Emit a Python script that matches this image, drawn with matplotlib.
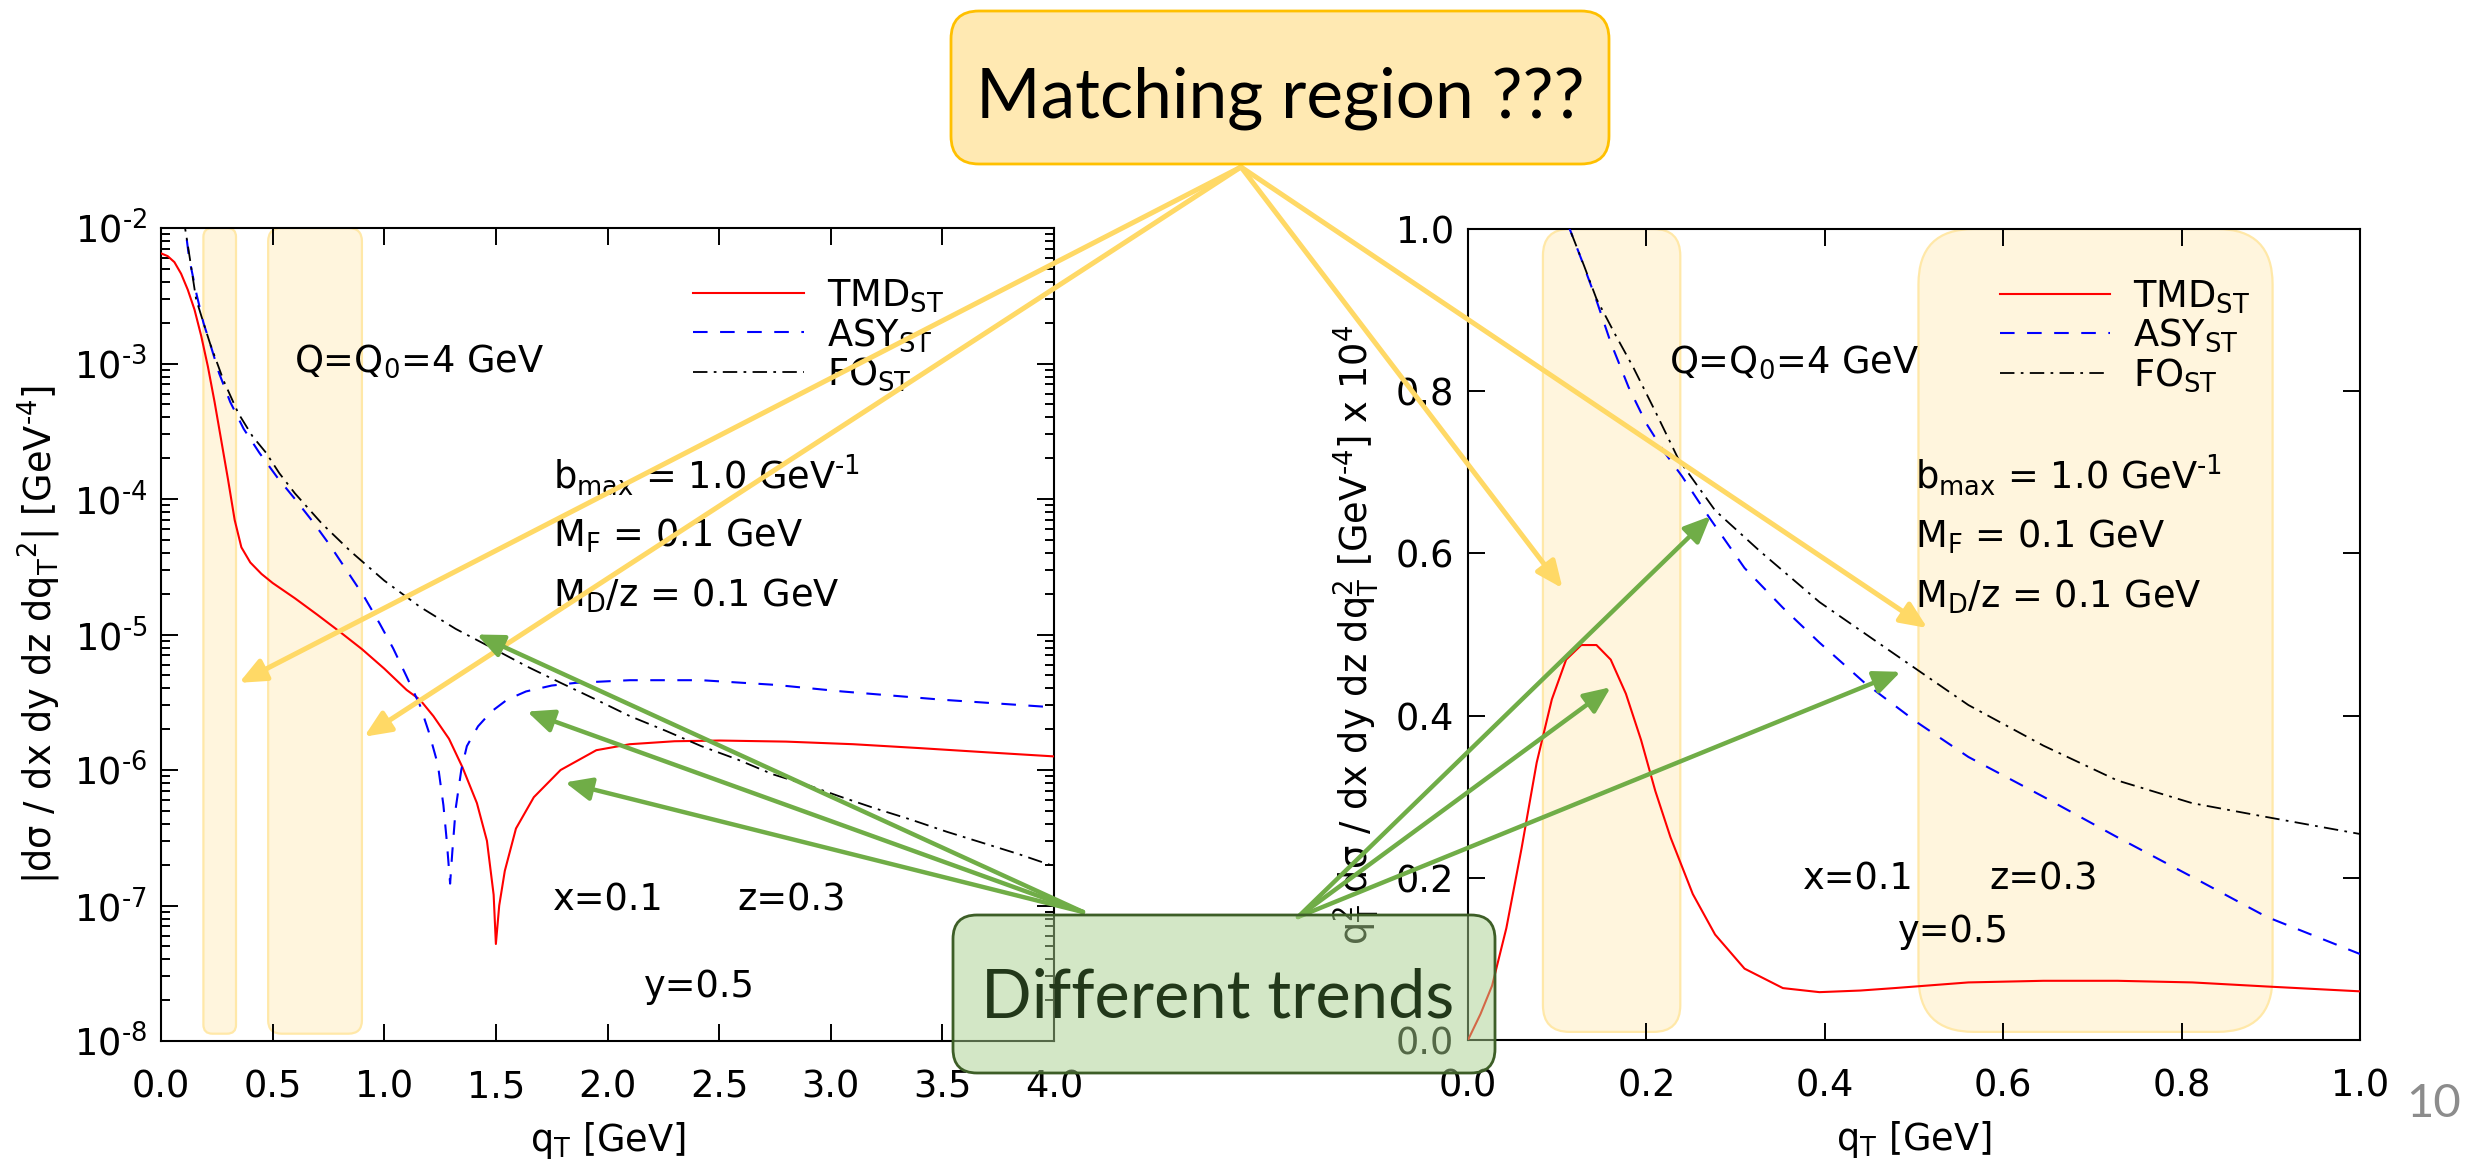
import matplotlib
matplotlib.use("Agg")
import matplotlib.pyplot as plt
from matplotlib.patches import FancyBboxPatch, ConnectionPatch
from matplotlib import transforms
from matplotlib.ticker import FormatStrFormatter, LogLocator, FuncFormatter
import numpy as np

plt.rcParams['font.family'] = ['DejaVu Sans']
plt.rcParams['mathtext.fontset'] = 'dejavusans'
plt.rcParams['mathtext.default'] = 'regular'

W, H, DPI = 2466, 1163, 100

# ---- left panel: |dsigma| vs qT (log scale) ----
tmd_l_x = [0.0, 0.03, 0.06, 0.09, 0.12, 0.15, 0.18, 0.21, 0.24, 0.27, 0.30, 0.33, 0.36, 0.40,
           0.45, 0.50, 0.60, 0.70, 0.80, 0.90, 1.00, 1.10, 1.16, 1.22, 1.29, 1.35, 1.415, 1.46,
           1.49, 1.50, 1.515, 1.54, 1.59, 1.67, 1.79, 1.95, 2.1, 2.3, 2.5, 2.8, 3.1, 3.4, 3.7, 4.0]
tmd_l_y = [6.5e-3, 6.2e-3, 5.6e-3, 4.6e-3, 3.5e-3, 2.5e-3, 1.6e-3, 9.5e-4, 5.2e-4, 2.7e-4, 1.4e-4,
           7.0e-5, 4.4e-5, 3.4e-5, 2.8e-5, 2.4e-5, 1.85e-5, 1.4e-5, 1.05e-5, 7.8e-6, 5.6e-6, 3.9e-6,
           3.3e-6, 2.5e-6, 1.7e-6, 1.05e-6, 5.7e-7, 3.0e-7, 1.2e-7, 5.2e-8, 1.0e-7, 1.8e-7, 3.7e-7,
           6.3e-7, 1.0e-6, 1.4e-6, 1.55e-6, 1.63e-6, 1.65e-6, 1.62e-6, 1.55e-6, 1.45e-6, 1.35e-6, 1.26e-6]

asy_l_x = [0.10, 0.126, 0.16, 0.19, 0.22, 0.26, 0.31, 0.37, 0.44, 0.52, 0.60, 0.68, 0.755, 0.83,
           0.91, 0.98, 1.04, 1.10, 1.16, 1.20, 1.24, 1.265, 1.28, 1.295, 1.305, 1.32, 1.345, 1.37,
           1.42, 1.48, 1.55, 1.635, 1.75, 1.86, 2.1, 2.42, 2.75, 3.05, 3.5, 4.0]
asy_l_y = [1.3e-2, 6.0e-3, 3.2e-3, 2.0e-3, 1.4e-3, 8.5e-4, 5.2e-4, 3.3e-4, 2.2e-4, 1.45e-4, 1.0e-4,
           6.8e-5, 4.6e-5, 3.0e-5, 1.9e-5, 1.2e-5, 7.9e-6, 4.9e-6, 3.0e-6, 1.9e-6, 1.1e-6, 5.5e-7,
           3.0e-7, 1.45e-7, 2.5e-7, 5.2e-7, 1.0e-6, 1.5e-6, 2.1e-6, 2.7e-6, 3.3e-6, 3.8e-6, 4.2e-6,
           4.4e-6, 4.6e-6, 4.6e-6, 4.25e-6, 3.8e-6, 3.3e-6, 2.9e-6]

fo_l_x = [0.10, 0.12, 0.157, 0.19, 0.22, 0.28, 0.346, 0.41, 0.47, 0.53, 0.60, 0.72, 0.85, 1.00,
          1.16, 1.32, 1.48, 1.64, 1.79, 1.95, 2.1, 2.26, 2.42, 2.58, 2.74, 2.9, 3.05, 3.2, 3.36,
          3.52, 3.68, 3.84, 4.0]
fo_l_y = [1.2e-2, 7.5e-3, 3.0e-3, 2.0e-3, 1.4e-3, 7.5e-4, 4.3e-4, 2.9e-4, 2.2e-4, 1.55e-4, 1.1e-4,
          6.6e-5, 4.1e-5, 2.5e-5, 1.6e-5, 1.1e-5, 8.0e-6, 5.8e-6, 4.4e-6, 3.3e-6, 2.5e-6, 1.95e-6,
          1.5e-6, 1.2e-6, 9.3e-7, 7.7e-7, 6.3e-7, 5.2e-7, 4.3e-7, 3.5e-7, 2.9e-7, 2.4e-7, 1.95e-7]

# ---- right panel: qT^2 dsigma x 10^4 (linear) ----
tmd_r_x = [0.0, 0.014, 0.027, 0.043, 0.06, 0.077, 0.094, 0.11, 0.127, 0.144, 0.16, 0.177, 0.194,
           0.21, 0.227, 0.252, 0.277, 0.31, 0.353, 0.394, 0.44, 0.478, 0.561, 0.645, 0.728, 0.812,
           0.895, 1.0]
tmd_r_y = [0.0, 0.032, 0.067, 0.138, 0.236, 0.342, 0.42, 0.469, 0.487, 0.487, 0.469, 0.427, 0.37,
           0.307, 0.25, 0.18, 0.13, 0.088, 0.064, 0.059, 0.061, 0.064, 0.071, 0.073, 0.073, 0.071,
           0.066, 0.06]

asy_r_x = [0.105, 0.114, 0.127, 0.144, 0.16, 0.18, 0.20, 0.22, 0.24, 0.27, 0.31, 0.353, 0.394,
           0.444, 0.503, 0.561, 0.645, 0.728, 0.812, 0.895, 1.0]
asy_r_y = [1.04, 1.0, 0.963, 0.912, 0.86, 0.805, 0.76, 0.725, 0.695, 0.645, 0.582, 0.533, 0.49,
           0.441, 0.392, 0.349, 0.30, 0.25, 0.201, 0.152, 0.106]

fo_r_x = [0.105, 0.114, 0.13, 0.144, 0.165, 0.185, 0.21, 0.236, 0.277, 0.327, 0.394, 0.478, 0.561,
          0.645, 0.728, 0.812, 0.895, 1.0]
fo_r_y = [1.03, 1.0, 0.955, 0.914, 0.87, 0.83, 0.775, 0.716, 0.653, 0.603, 0.54, 0.476, 0.413,
          0.363, 0.32, 0.292, 0.275, 0.254]

left_xticks = [0.0, 0.5, 1.0, 1.5, 2.0, 2.5, 3.0, 3.5, 4.0]
right_ticks = [0.0, 0.2, 0.4, 0.6, 0.8, 1.0]
series_labels = ['TMD$_{ST}$', 'ASY$_{ST}$', 'FO$_{ST}$']

# matching-region bands (qT ranges)
left_bands = [(0.19, 0.336), (0.48, 0.90)]
right_bands = [(0.084, 0.238), (0.505, 0.902)]

# arrow targets
yellow_left = [(0.35, 4.4e-6), (0.91, 1.76e-6)]
yellow_right = [(0.106, 0.557), (0.515, 0.508)]
green_left = [(1.415, 1.0e-5), (1.64, 2.7e-6), (1.81, 8.1e-7)]
green_right = [(0.272, 0.646), (0.16, 0.435), (0.485, 0.454)]

FS = 26.5
HY = r'\text{-}'  # short hyphen in superscripts, like the slide

fig = plt.figure(figsize=(W / DPI, H / DPI), dpi=DPI)


def add_axes_px(x0, y0, x1, y1):
    return fig.add_axes([x0 / W, 1 - y1 / H, (x1 - x0) / W, (y1 - y0) / H])


def style_axes(ax):
    for s in ax.spines.values():
        s.set_linewidth(1.5)
    ax.tick_params(which='both', direction='in', top=True, right=True, width=1.4)
    ax.tick_params(which='major', length=12)
    ax.tick_params(which='minor', length=6.5)
    ax.tick_params(axis='x', labelsize=FS, pad=20)
    ax.tick_params(axis='y', labelsize=FS, pad=10)


def plot_curves(ax, xs, ys):
    red, = ax.plot(xs[0], ys[0], color='#ff0000', lw=1.5, zorder=3)
    blue, = ax.plot(xs[1], ys[1], color='#0000ff', lw=1.5, dashes=(7, 6), zorder=3)
    blk, = ax.plot(xs[2], ys[2], color='black', lw=1.3, dashes=(8, 3.5, 1.5, 3.5), zorder=3)
    ax.legend([red, blue, blk], series_labels, loc='upper left', bbox_to_anchor=(0.596, 0.94),
              frameon=False, fontsize=FS, handlelength=3.0, handletextpad=0.63,
              labelspacing=0.05, borderpad=0, borderaxespad=0)


def add_params(ax, q_x, p_x, x_x, z_x, xz_y, y_x, y_y):
    kw = dict(transform=ax.transAxes, fontsize=FS, va='center', ha='left', zorder=4)
    ax.text(q_x, 0.836, 'Q=Q$_0$=4 GeV', **kw)
    ax.text(p_x, 0.696, 'b$_{max}$ = 1.0 GeV$^{%s1}$' % HY, **kw)
    ax.text(p_x, 0.621, 'M$_F$ = 0.1 GeV', **kw)
    ax.text(p_x, 0.547, 'M$_D$/z = 0.1 GeV', **kw)
    ax.text(x_x, xz_y, 'x=0.1', **kw)
    ax.text(z_x, xz_y, 'z=0.3', **kw)
    ax.text(y_x, y_y, 'y=0.5', **kw)


def log_label(v, pos):
    e = int(round(np.log10(v)))
    sign = HY if e < 0 else ''
    return '$10^{%s%d}$' % (sign, abs(e))


band_kw = dict(facecolor='#fff5dd', edgecolor='#ffe8a8', lw=1.6, zorder=1)

# ---------------- left panel ----------------
ax1 = add_axes_px(161, 228, 1054, 1041)
ax1.set_yscale('log')
ax1.set_xlim(0, 4)
ax1.set_ylim(1e-8, 1e-2)
ax1.set_xticks(left_xticks)
ax1.xaxis.set_major_formatter(FormatStrFormatter('%.1f'))
ax1.yaxis.set_major_locator(LogLocator(base=10, numticks=20))
ax1.yaxis.set_minor_locator(LogLocator(base=10, subs=range(2, 10), numticks=20))
ax1.yaxis.set_major_formatter(FuncFormatter(log_label))
style_axes(ax1)
blend1 = transforms.blended_transform_factory(ax1.transData, ax1.transAxes)
for (b0, b1), r in zip(left_bands, [0.04, 0.06]):
    ax1.add_patch(FancyBboxPatch((b0, 0.009), b1 - b0, 0.991,
                                 boxstyle=f'round,pad=0,rounding_size={r}',
                                 mutation_aspect=223 / 813, transform=blend1, **band_kw))
plot_curves(ax1, [tmd_l_x, asy_l_x, fo_l_x], [tmd_l_y, asy_l_y, fo_l_y])
add_params(ax1, 0.149, 0.439, 0.439, 0.645, 0.173, 0.541, 0.067)
ax1.set_ylabel('|d\u03c3 / dx dy dz dq$_T$$^2$| [GeV$^{%s4}$]' % HY, fontsize=FS, va='center')
ax1.yaxis.set_label_coords(-0.1366, 0.5)
ax1.set_xlabel('q$_T$ [GeV]', fontsize=FS, va='center')
ax1.xaxis.set_label_coords(0.5, -0.122)

# ---------------- right panel ----------------
ax2 = add_axes_px(1468, 229, 2360, 1040)
ax2.set_xlim(0, 1)
ax2.set_ylim(0, 1)
ax2.set_xticks(right_ticks)
ax2.set_yticks(right_ticks)
ax2.xaxis.set_major_formatter(FormatStrFormatter('%.1f'))
ax2.yaxis.set_major_formatter(FormatStrFormatter('%.1f'))
style_axes(ax2)
for (b0, b1), r in zip(right_bands, [0.03, 0.062]):
    ax2.add_patch(FancyBboxPatch((b0, 0.01), b1 - b0, 0.99,
                                 boxstyle=f'round,pad=0,rounding_size={r}',
                                 mutation_aspect=892 / 811, **band_kw))
plot_curves(ax2, [tmd_r_x, asy_r_x, fo_r_x], [tmd_r_y, asy_r_y, fo_r_y])
add_params(ax2, 0.2256, 0.501, 0.376, 0.585, 0.198, 0.482, 0.134)
ax2.set_ylabel('q$_T^2$ d\u03c3 / dx dy dz dq$_T^2$ [GeV$^{%s4}$] x 10$^4$' % HY,
               fontsize=FS, va='center')
ax2.yaxis.set_label_coords(-0.1256, 0.5)
ax2.set_xlabel('q$_T$ [GeV]', fontsize=FS, va='center')
ax2.xaxis.set_label_coords(0.5, -0.123)


# ---------------- slide annotations ----------------
def arrow(origin_px, tip, ax, color, lw):
    cp = ConnectionPatch(xyA=origin_px, coordsA='figure pixels', xyB=tip, coordsB=ax.transData,
                         arrowstyle='-|>,head_length=0.8,head_width=0.35', mutation_scale=20,
                         color=color, lw=lw, shrinkA=0, shrinkB=0, zorder=5)
    fig.add_artist(cp)


yellow = '#ffd966'
green = '#70ad47'
for t in yellow_left:
    arrow((1241, H - 167), t, ax1, yellow, 3.6)
for t in yellow_right:
    arrow((1241, H - 167), t, ax2, yellow, 3.6)
for t in green_left:
    arrow((1083, H - 912), t, ax1, green, 3.2)
for t in green_right:
    arrow((1298, H - 917), t, ax2, green, 3.2)


def slide_box(x0, y0, x1, y1, fc, ec, r):
    p = FancyBboxPatch((x0 / DPI, (H - y1) / DPI), (x1 - x0) / DPI, (y1 - y0) / DPI,
                       boxstyle=f'round,pad=0,rounding_size={r / DPI}',
                       transform=fig.dpi_scale_trans, facecolor=fc, edgecolor=ec, lw=2, zorder=6)
    fig.add_artist(p)


slide_box(951, 11, 1609, 164, '#ffe9b2', '#ffc000', 28)
fig.text(1280 / W, 1 - 118 / H, 'Matching region ???', fontsize=50, family=['Lato', 'DejaVu Sans'],
         ha='center', va='baseline', color='black', zorder=7)

slide_box(953, 915, 1495, 1073, (169 / 255, 209 / 255, 142 / 255, 0.5), '#3d5e27', 24)
fig.text(1218 / W, 1 - 1017 / H, 'Different trends', fontsize=48, family=['Lato', 'DejaVu Sans'],
         ha='center', va='baseline', color='#22381a', zorder=7)

fig.text(2406 / W, 1 - 1117 / H, '10', fontsize=34, family=['Lato', 'DejaVu Sans'],
         ha='left', va='baseline', color='#8c8c8c')

fig.savefig('out.png', dpi=DPI)
